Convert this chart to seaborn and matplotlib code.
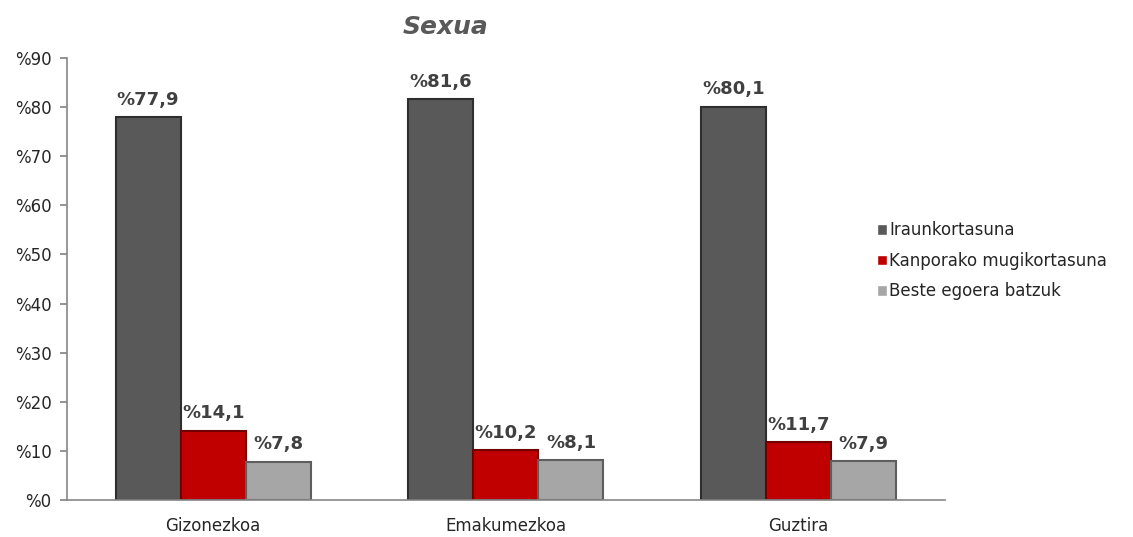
import pandas as pd
import matplotlib.pyplot as plt
import seaborn as sns

sns.set_theme(style="white")
plt.rcParams['font.family'] = ['DejaVu Sans']

# data
categories = ["Gizonezkoa", "Emakumezkoa", "Guztira"]
series = ["Iraunkortasuna", "Kanporako mugikortasuna", "Beste egoera batzuk"]
iraunkortasuna = [77.9, 81.6, 80.1]
kanporako = [14.1, 10.2, 11.7]
beste = [7.8, 8.1, 7.9]
colors = ["#595959", "#c00000", "#a6a6a6"]
edge_colors = ["#2e2e2e", "#700000", "#5e5e5e"]

rows = []
for name, vals in zip(series, [iraunkortasuna, kanporako, beste]):
    for cat, v in zip(categories, vals):
        rows.append({"Kategoria": cat, "Egoera": name, "Balioa": v})
df = pd.DataFrame(rows)

fig = plt.figure(figsize=(11.33, 5.37), dpi=100)
ax = fig.add_axes([0.059, 0.069, 0.775, 0.823])

sns.barplot(data=df, x="Kategoria", y="Balioa", hue="Egoera",
            palette=colors, saturation=1, width=0.667, gap=0, ax=ax, legend=True)

# edges + labels
for i, cont in enumerate(ax.containers):
    for p in cont.patches:
        p.set_edgecolor(edge_colors[i])
        p.set_linewidth(1.5)
    ax.bar_label(cont, labels=["%" + f"{v:.1f}".replace(".", ",") for v in cont.datavalues],
                 padding=6, fontsize=13, fontweight="bold", color="#404040")

ax.set_ylim(0, 90)
ax.set_xlim(-0.5, 2.5)
ax.set_yticks(range(0, 91, 10))
ax.set_yticklabels(["%" + str(t) for t in range(0, 91, 10)], fontsize=12, color="#262626")
ax.set_xticks([-0.5, 0.5, 1.5, 2.5], minor=False)
ax.set_xticklabels([])
ax.set_xticks([0, 1, 2], minor=True)
ax.set_xticklabels(categories, minor=True, fontsize=12, color="#262626")
ax.tick_params(axis="x", which="minor", length=0, pad=12)
ax.tick_params(axis="x", which="major", length=5, color="#868686", direction="out")
ax.tick_params(axis="y", length=5, color="#868686", direction="out", left=True, pad=6)
ax.set_xlabel("")
ax.set_ylabel("")

for s in ["top", "right"]:
    ax.spines[s].set_visible(False)
for s in ["left", "bottom"]:
    ax.spines[s].set_color("#868686")
    ax.spines[s].set_linewidth(1.2)

ax.legend(title=None, frameon=False, loc="upper left",
          bbox_to_anchor=(0.768, 0.6), bbox_transform=fig.transFigure,
          fontsize=12, handlelength=0.6, handleheight=0.6,
          handletextpad=0.15, labelspacing=0.75, borderaxespad=0)

fig.text(0.393, 0.95, "Sexua", ha="center", va="center", fontsize=18,
         fontweight="bold", fontstyle="italic", color="#595959")

fig.savefig("out.png", dpi=100)
